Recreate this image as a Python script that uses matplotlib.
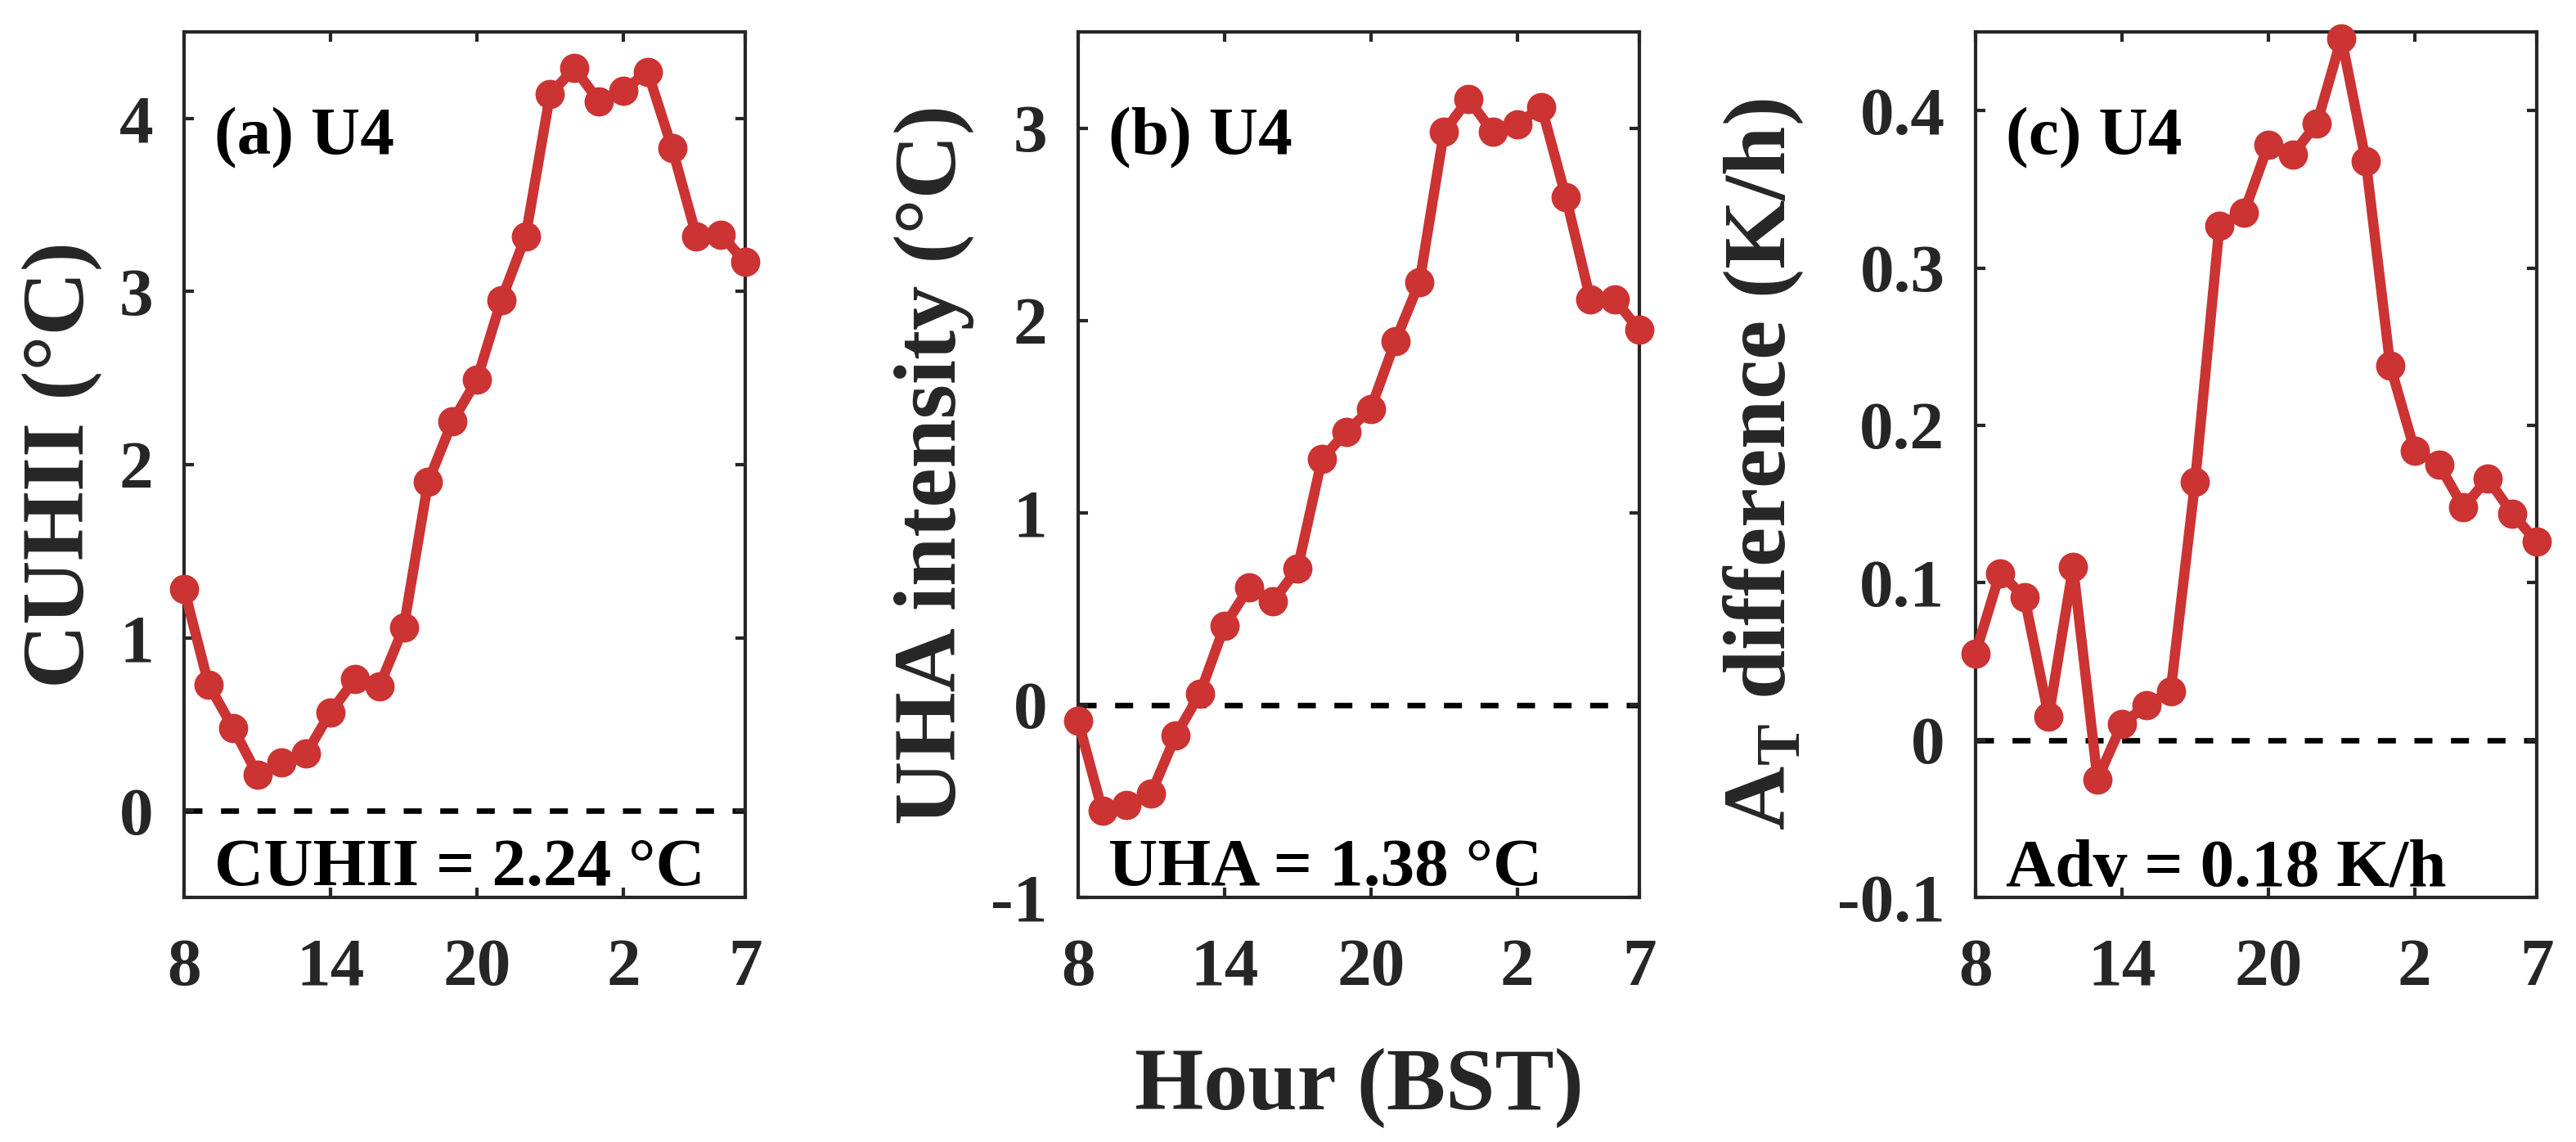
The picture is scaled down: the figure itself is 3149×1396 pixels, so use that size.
import matplotlib
matplotlib.use("Agg")
import matplotlib.pyplot as plt
import numpy as np

# hours 8 BST through 7 BST next day
hours = np.arange(8, 32)
hour_ticks = [8, 14, 20, 26, 31]
hour_labels = ['8', '14', '20', '2', '7']

cuhii = [1.28, 0.73, 0.48, 0.21, 0.28, 0.33, 0.57, 0.76, 0.72, 1.06,
         1.90, 2.25, 2.49, 2.95, 3.32, 4.14, 4.29, 4.10, 4.16, 4.27,
         3.83, 3.32, 3.33, 3.17]
uha = [-0.08, -0.55, -0.52, -0.46, -0.16, 0.06, 0.41, 0.61, 0.54, 0.71,
       1.28, 1.42, 1.54, 1.89, 2.20, 2.98, 3.15, 2.98, 3.02, 3.11,
       2.64, 2.11, 2.11, 1.95]
adv = [0.055, 0.106, 0.091, 0.015, 0.110, -0.025, 0.010, 0.022, 0.031, 0.164,
       0.327, 0.335, 0.378, 0.372, 0.392, 0.446, 0.368, 0.238, 0.184, 0.175,
       0.148, 0.166, 0.144, 0.126]

panel_tags = ['(a) U4', '(b) U4', '(c) U4']
panel_notes = ['CUHII = 2.24 °C', 'UHA = 1.38 °C', 'Adv = 0.18 K/h']
ylabels = ['CUHII (°C)', 'UHA intensity (°C)', r'A$_{\mathbf{T}}$ difference (K/h)']
ylims = [(-0.5, 4.5), (-1, 3.5), (-0.1, 0.45)]
yticks = [[0, 1, 2, 3, 4], [-1, 0, 1, 2, 3], [-0.1, 0, 0.1, 0.2, 0.3, 0.4]]
ytick_labels = [['0', '1', '2', '3', '4'], ['-1', '0', '1', '2', '3'],
                ['-0.1', '0', '0.1', '0.2', '0.3', '0.4']]
ylabel_x = [-0.146, -0.185, -0.303]

plt.rcParams['font.family'] = 'Liberation Serif'
plt.rcParams['font.weight'] = 'bold'
plt.rcParams['mathtext.fontset'] = 'custom'
plt.rcParams['mathtext.rm'] = 'Liberation Serif:bold'
plt.rcParams['mathtext.bf'] = 'Liberation Serif:bold'

dark = '#262626'
red = '#CC3333'

fig = plt.figure(figsize=(3149 / 300, 1396 / 300), dpi=300)
lefts = [0.0715, 0.4185, 0.7669]
series = [cuhii, uha, adv]

for i in range(3):
    ax = fig.add_axes([lefts[i], 0.2142, 0.2178, 0.7579])
    ax.axhline(0, color='k', lw=1.6, ls=(0, (3.3, 3.4)), zorder=1)
    ax.plot(hours, series[i], '-o', color=red, lw=3.0, ms=7.6, mec=red,
            zorder=3, clip_on=False)
    ax.set_xlim(8, 31)
    ax.set_ylim(*ylims[i])
    ax.set_xticks(hour_ticks)
    ax.set_xticklabels(hour_labels)
    ax.set_yticks(yticks[i])
    ax.set_yticklabels(ytick_labels[i])
    ax.tick_params(direction='in', top=True, right=True, length=2.9, width=1.0,
                   colors=dark, labelsize=20, pad=9)
    ax.tick_params(axis='x', pad=12)
    for s in ax.spines.values():
        s.set_color(dark)
        s.set_linewidth(1.0)
    ax.set_ylabel(ylabels[i], fontsize=26, fontweight='bold', color=dark)
    ax.yaxis.set_label_coords(ylabel_x[i], 0.5)
    ax.text(0.054, 0.859, panel_tags[i], transform=ax.transAxes, fontsize=20,
            fontweight='bold', color='k', va='baseline', ha='left')
    ax.text(0.054, 0.014, panel_notes[i], transform=ax.transAxes, fontsize=20,
            fontweight='bold', color='k', va='baseline', ha='left')

fig.text(1661 / 3149, 0.0287, 'Hour (BST)', fontsize=26, fontweight='bold',
         color=dark, ha='center', va='baseline')

fig.savefig('out.png', dpi=300)
